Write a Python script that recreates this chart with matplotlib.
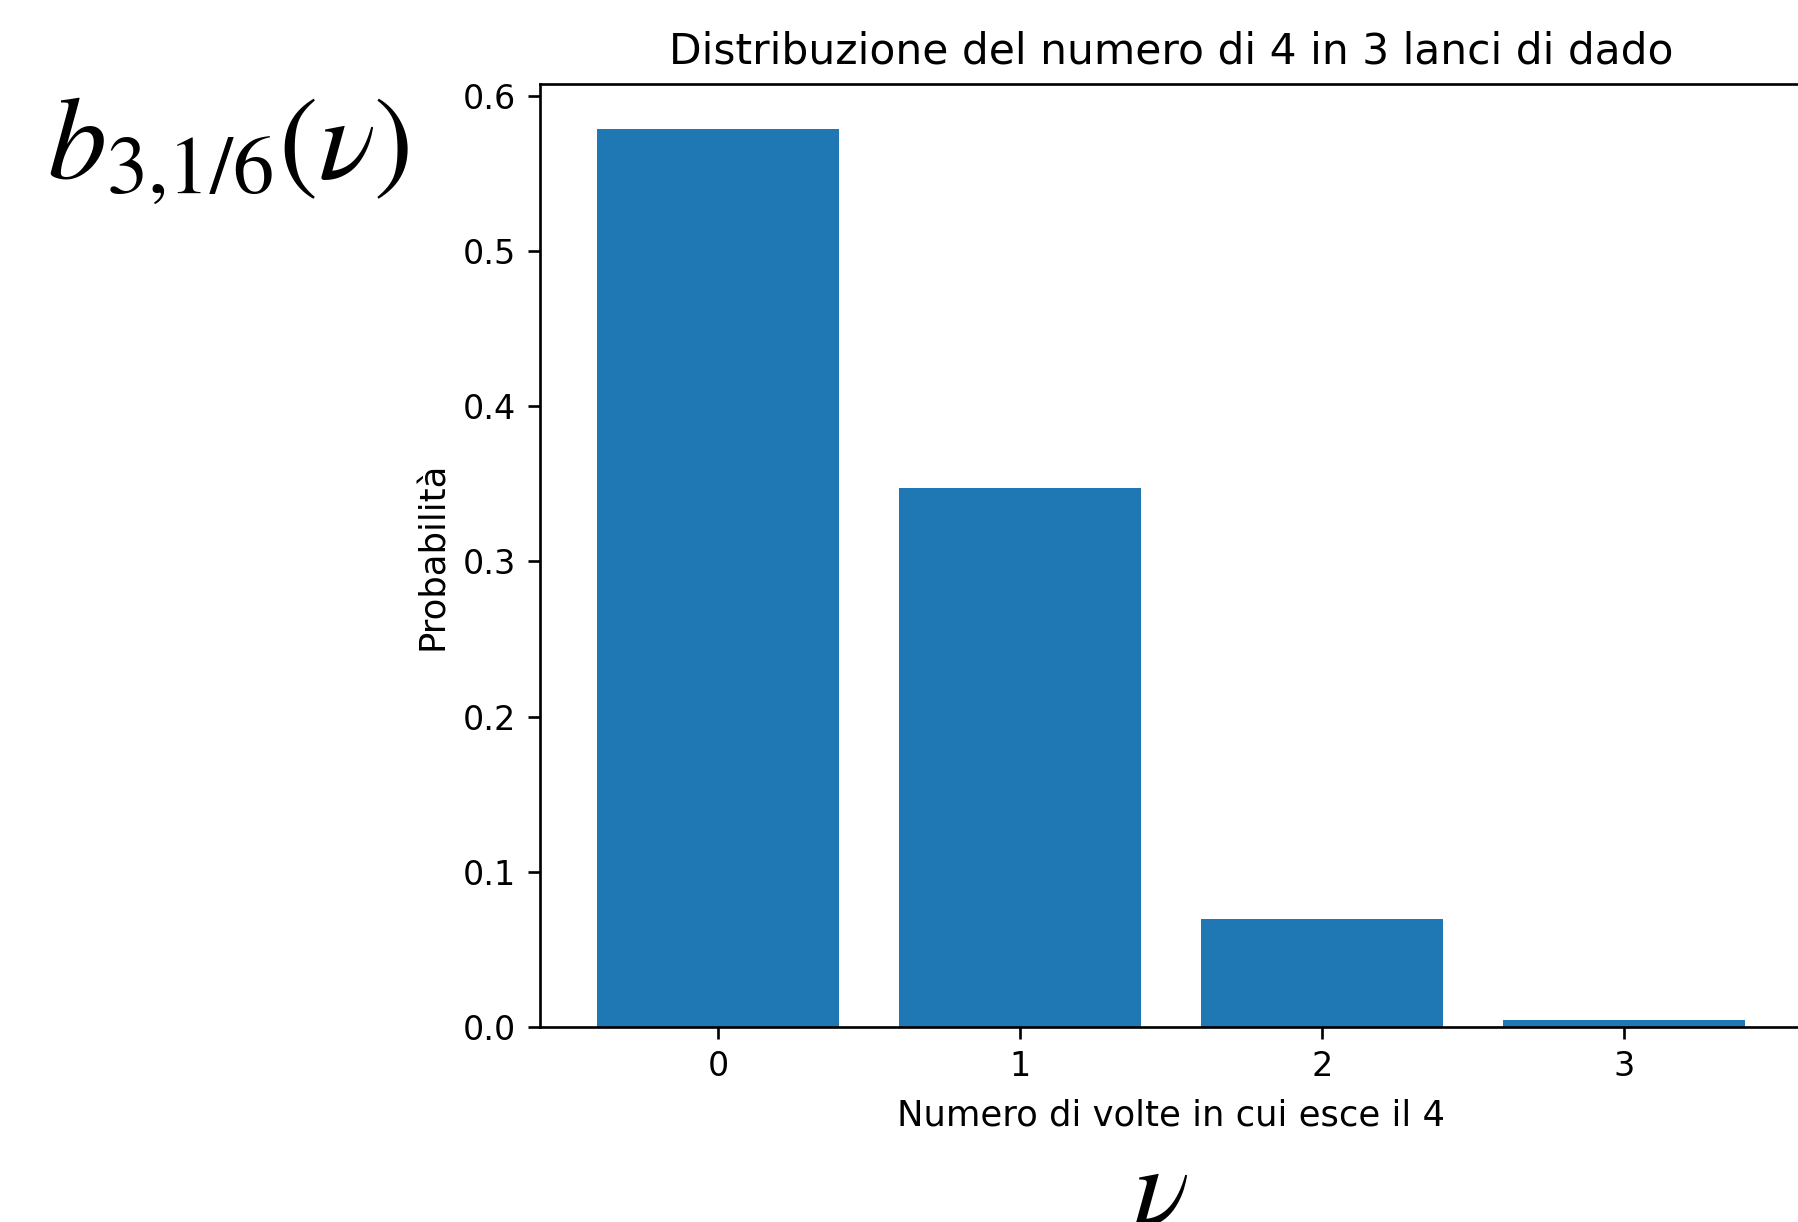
import matplotlib
matplotlib.use("Agg")
import matplotlib.pyplot as plt

# values of the binomial b(3, 1/6)
successi = [0, 1, 2, 3]
probabilita = [0.5787, 0.3472, 0.0694, 0.0046]

titolo = "Distribuzione del numero di 4 in 3 lanci di dado"
etichetta_x = "Numero di volte in cui esce il 4"
etichetta_y = "Probabilità"

S = 2.4  # scale of the screenshot relative to a default matplotlib figure

fig = plt.figure(figsize=(17.99, 12.22), dpi=100)
ax = fig.add_axes([0.300, 0.1596, 0.7017, 0.7717])

ax.bar(successi, probabilita, color="#1f77b4", width=0.8)
ax.set_xticks(successi)
ax.set_title(titolo, fontsize=12.7 * S, pad=6 * S)
ax.set_xlabel(etichetta_x, fontsize=10.6 * S, labelpad=4.5 * S)
ax.set_ylabel(etichetta_y, fontsize=10.6 * S, labelpad=4 * S)
ax.tick_params(labelsize=10 * S, length=3.5 * S, width=0.8 * S, pad=3.5 * S)
for sp in ax.spines.values():
    sp.set_linewidth(0.8 * S)

# hand-added math labels in a Times-like serif
fig.text(0.026, 0.855, r"$b_{3{,}1/6}(\nu)$", fontsize=85,
         math_fontfamily="stix", ha="left", va="baseline")
fig.text(0.645, -0.003, r"$\nu$", fontsize=85,
         math_fontfamily="stix", ha="center", va="baseline")

fig.savefig("out.png", dpi=100)
